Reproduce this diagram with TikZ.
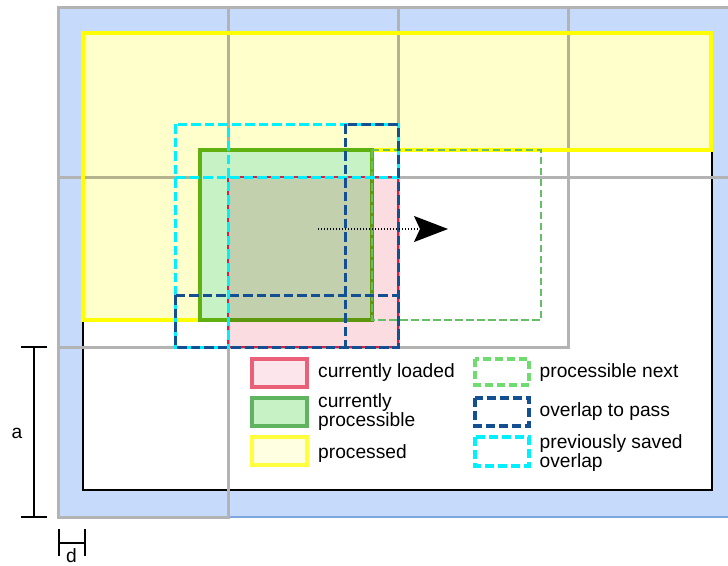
\documentclass[tikz,border=0pt]{standalone}
\usepackage{fontspec}
\setmainfont{Liberation Sans}
\usetikzlibrary{arrows.meta}

\definecolor{bluebg}{RGB}{198,219,252}
\definecolor{blueedge}{RGB}{126,166,224}
\definecolor{tilegray}{RGB}{179,179,179}
\definecolor{doneyellow}{RGB}{255,255,0}
\definecolor{donefill}{RGB}{255,255,204}
\definecolor{procgreen}{RGB}{96,176,16}
\definecolor{procfill}{RGB}{198,242,198}
\definecolor{loadred}{RGB}{220,30,70}
\definecolor{loadfill}{RGB}{250,220,225}
\definecolor{nextgreen}{RGB}{102,190,102}
\definecolor{passblue}{RGB}{20,80,145}
\definecolor{savedcyan}{RGB}{0,240,255}
\definecolor{legred}{RGB}{234,96,120}
\definecolor{legredfill}{RGB}{252,230,235}
\definecolor{leggreen}{RGB}{96,180,96}
\definecolor{legyellow}{RGB}{255,255,64}
\definecolor{legyellowfill}{RGB}{255,255,226}
\definecolor{legnext}{RGB}{110,220,110}

\begin{document}
\begin{tikzpicture}[x=1pt,y=-1pt,
  tile/.style={draw=tilegray,line width=3pt},
  dashA/.style={dash pattern=on 9.5pt off 4pt,line width=3pt},
  dashB/.style={dash pattern=on 7.5pt off 3.5pt,line width=2.8pt},
  swatch/.style={line width=3.2pt},
  label/.style={inner sep=0pt,anchor=base west,align=left,
    font=\fontsize{19.2}{19}\selectfont},
  dimline/.style={line width=1.2pt,draw=black}]
\useasboundingbox (0,0) rectangle (728,565);
\clip (0,0) rectangle (728,565);

% padded area around the image
\draw[fill=bluebg,draw=blueedge,line width=2pt] (58,7) rectangle (760,517);
% the image itself
\draw[fill=white,line width=2.5pt] (83,33) rectangle (712,490);

% tile grid
\foreach \c in {0,1,2,3} \draw[tile] (58+170*\c,7) rectangle ++(170,170);
\foreach \c in {0,1,2} \draw[tile] (58+170*\c,177) rectangle ++(170,170);
\draw[tile] (58,347) rectangle ++(170,170);

% processed region
\begin{scope}[blend mode=multiply]
  \fill[donefill] (83,33) -- (711,33) -- (711,150) -- (200,150) -- (200,320) -- (83,320) -- cycle;
\end{scope}
\draw[doneyellow,line width=3.2pt,line join=miter]
  (83,33) -- (711,33) -- (711,150) -- (200,150) -- (200,320) -- (83,320) -- cycle;

% currently processible
\draw[fill=procfill,draw=procgreen,line width=3.6pt] (200,150) rectangle (372,320);

% currently loaded
\begin{scope}[blend mode=multiply]
  \fill[loadfill] (228,177) rectangle (398,347);
\end{scope}
\draw[loadred,line width=2.5pt] (228,177) rectangle (398,347);

% processible next
\draw[nextgreen,dashB] (372,150) rectangle (541,320);

% previously saved overlap
\draw[savedcyan,dashA] (175,124) rectangle (398,177);
\draw[savedcyan,dashA] (175,124) rectangle (228,347);

% overlap to pass
\draw[passblue,dashA] (345,124) rectangle (398,347);
\draw[passblue,dashA] (175,295) rectangle (398,347);

% processing direction
\coordinate (flowstart) at (318,229);
\coordinate (flowend) at (448,229);
\draw[line width=1.3pt,dash pattern=on 1.3pt off 1.7pt,
  -{Stealth[length=34pt,width=26pt,inset=6pt]}] (flowstart) -- (flowend);

% legend
\draw[swatch,draw=legred,fill=legredfill] (252,359) rectangle (307,387);
\draw[swatch,draw=leggreen,fill=procfill] (252,398) rectangle (307,426);
\draw[swatch,draw=legyellow,fill=legyellowfill] (252,437) rectangle (307,465);
\draw[swatch,draw=legnext,fill=white,dash pattern=on 8pt off 4pt] (475,359) rectangle (529,385);
\draw[swatch,draw=passblue,fill=white,dash pattern=on 9pt off 4pt] (475,398) rectangle (529,426);
\draw[swatch,draw=savedcyan,fill=white,dash pattern=on 9pt off 4pt] (475,437) rectangle (529,466);

% multi-line labels are anchored at the baseline of their last line
\node[label] (lloaded) at (318,377.7) {currently loaded};
\node[label] (lproc) at (318,426) {currently\\processible};
\node[label] (ldone) at (318,458) {processed};
\node[label] (lnext) at (539.5,377.3) {processible next};
\node[label] (lpass) at (539.5,416) {overlap to pass};
\node[label] (lsaved) at (539.5,467.3) {previously saved\\overlap};

% dimension a
\coordinate (atop) at (34,347);
\coordinate (abot) at (34,517);
\draw[dimline] (21,347) -- (47,347);
\draw[dimline] (21,517) -- (47,517);
\draw[dimline] (atop) -- (abot);
\node[label,anchor=base] (alabel) at (17,438) {a};

% dimension d
\coordinate (dleft) at (59,543);
\coordinate (dright) at (85,543);
\draw[dimline] (59,529) -- (59,556);
\draw[dimline] (85,529) -- (85,556);
\draw[dimline] (dleft) -- (dright);
\node[label,anchor=base] (dlabel) at (71.5,562) {d};
\end{tikzpicture}
\end{document}
